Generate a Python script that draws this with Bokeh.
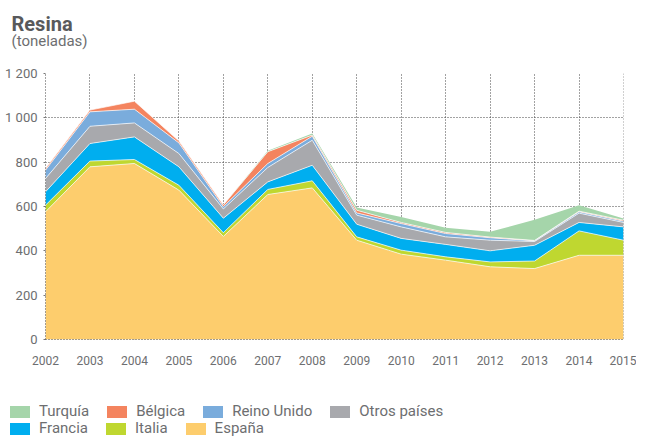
import numpy as np
from bokeh.plotting import figure
from bokeh.layouts import column
from bokeh.models import (ColumnDataSource, Legend, LegendItem, Range1d, FixedTicker,
                          Span, Label)
from bokeh.embed import file_html
from bokeh.resources import INLINE

years = [2002, 2003, 2004, 2005, 2006, 2007, 2008, 2009, 2010, 2011, 2012, 2013, 2014, 2015]
espana = [576, 779, 794, 674, 465, 654, 684, 448, 385, 358, 328, 320, 380, 380]
italia = [30, 26, 18, 22, 17, 23, 32, 15, 18, 15, 22, 34, 110, 68]
francia = [60, 79, 102, 83, 65, 34, 70, 57, 53, 56, 50, 71, 38, 60]
otros = [60, 78, 63, 60, 42, 65, 113, 41, 52, 34, 48, 17, 42, 20]
reino_unido = [38, 65, 62, 48, 10, 18, 18, 10, 15, 15, 11, 3, 6, 6]
belgica = [7, 8, 36, 8, 8, 53, 5, 12, 5, 5, 3, 2, 3, 4]
turquia = [0, 0, 0, 0, 0, 4, 7, 12, 25, 21, 24, 93, 27, 8]

series_names = ["España", "Italia", "Francia", "Otros países", "Reino Unido", "Bélgica", "Turquía"]
series_keys = ["espana", "italia", "francia", "otros", "reino_unido", "belgica", "turquia"]
series_colors = ["#fdcd6d", "#bfd730", "#00aeef", "#a8a9ad", "#7aacdc", "#f4845f", "#a5d5aa"]
y_ticks = [0, 200, 400, 600, 800, 1000, 1200]
y_tick_labels = ["0", "200", "400", "600", "800", "1 000", "1 200"]
legend_row1 = ["Turquía", "Bélgica", "Reino Unido", "Otros países"]
legend_row2 = ["Francia", "Italia", "España"]
title_text = "Resina"
subtitle_text = "(toneladas)"

FONT = "Roboto"
TXT = "#6d6e70"
GRID = "#444444"
W = 636

data = dict(year=years, espana=espana, italia=italia, francia=francia, otros=otros,
            reino_unido=reino_unido, belgica=belgica, turquia=turquia)
source = ColumnDataSource(data)


def strip(height):
    f = figure(width=W, height=height, output_backend="svg", toolbar_location=None,
               x_range=Range1d(0, 1), y_range=Range1d(0, 1),
               x_axis_location=None, y_axis_location=None, min_border=0)
    f.frame_align = False
    f.title.text = ""
    f.outline_line_color = None
    f.grid.visible = False
    return f


# ---------------- title strip ----------------
head = strip(60)
head.add_layout(Label(x=11, y=37, x_units="screen", y_units="screen", text=title_text,
                      text_font=FONT, text_font_size="20px", text_font_style="bold",
                      text_color="#58595b", text_baseline="alphabetic"))
head.add_layout(Label(x=11, y=20, x_units="screen", y_units="screen", text=subtitle_text,
                      text_font=FONT, text_font_size="15px",
                      text_color=TXT, text_baseline="alphabetic"))

# ---------------- main chart ----------------
fig = figure(width=W, height=332, output_backend="svg", toolbar_location=None,
             x_range=Range1d(years[0], years[-1]), y_range=Range1d(0, 1200),
             min_border_left=45, min_border_right=13, min_border_top=13, min_border_bottom=53)
fig.frame_align = False
fig.title.text = ""
fig.outline_line_color = None

fig.varea_stack(stackers=series_keys, x="year", color=series_colors, source=source)

# thin white separators between layers
cum = np.cumsum(np.array([data[k] for k in series_keys], dtype=float), axis=0)
for row in cum[:-1]:
    fig.line(years, row, line_color="white", line_width=0.8, line_alpha=0.85)

fig.xaxis.ticker = FixedTicker(ticks=years)
fig.yaxis.ticker = FixedTicker(ticks=y_ticks)
fig.yaxis.major_label_overrides = {t: l for t, l in zip(y_ticks, y_tick_labels)}
for ax in (fig.xaxis[0], fig.yaxis[0]):
    ax.axis_line_color = GRID
    ax.axis_line_dash = "1 2"
    ax.major_tick_line_color = "#777777"
    ax.minor_tick_line_color = None
    ax.major_label_text_color = TXT
    ax.major_label_text_font = FONT
    ax.major_label_text_font_size = "13px"
fig.xaxis.major_label_text_font_size = "12px"
fig.xaxis.major_tick_out = 0
fig.xaxis.major_tick_in = 0
fig.xaxis.major_label_standoff = 16
fig.yaxis.major_tick_out = 2
fig.yaxis.major_tick_in = 0
fig.yaxis.major_label_standoff = 6

fig.xgrid.ticker = FixedTicker(ticks=years)
fig.ygrid.ticker = FixedTicker(ticks=y_ticks)
for g in (fig.xgrid[0], fig.ygrid[0]):
    g.grid_line_color = GRID
    g.grid_line_dash = "1 2"
    g.grid_line_width = 1

fig.add_layout(Span(location=years[-1], dimension="height", line_color=GRID,
                    line_dash="1 2", line_width=1))

# ---------------- legend strip ----------------
# same stacked data, drawn outside this strip's ranges: only the legend shows
leg_fig = strip(45)
leg_renderers = leg_fig.varea_stack(stackers=series_keys, x="year", color=series_colors,
                                    source=source)
swatch = dict(zip(series_names, leg_renderers))

for names, yloc in ((legend_row1, 17), (legend_row2, 0)):
    leg = Legend(items=[LegendItem(label=n, renderers=[swatch[n]]) for n in names],
                 orientation="horizontal", location=(7, yloc),
                 glyph_width=25, glyph_height=15, label_standoff=7, spacing=15,
                 label_width=0, label_height=18, padding=0, margin=0,
                 border_line_alpha=0, background_fill_alpha=0,
                 label_text_font=FONT, label_text_font_size="15px",
                 label_text_color=TXT)
    leg_fig.add_layout(leg)

p = column(head, fig, leg_fig, spacing=0)
open("out.html", "w").write(file_html(p, INLINE))
